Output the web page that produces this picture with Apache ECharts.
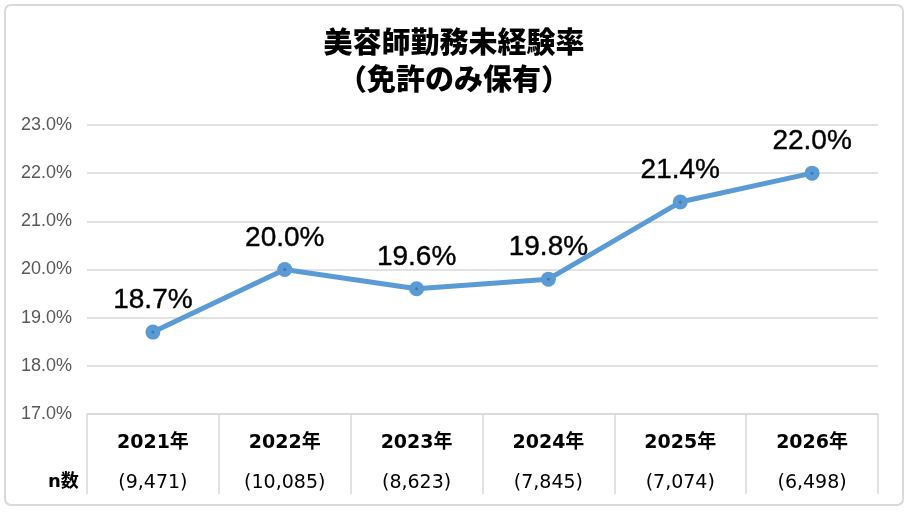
<!DOCTYPE html>
<html>
<head>
<meta charset="utf-8">
<script src="https://cdn.jsdelivr.net/npm/echarts@6/dist/echarts.min.js"></script>
<style>
  html, body { margin: 0; padding: 0; background: #fff; }
  #chart { width: 908px; height: 512px; }
</style>
</head>
<body>
<div id="chart"></div>
<script>
// データ
const years = ["2021年", "2022年", "2023年", "2024年", "2025年", "2026年"];
const counts = ["(9,471)", "(10,085)", "(8,623)", "(7,845)", "(7,074)", "(6,498)"];
const rates = [18.7, 20.0, 19.6, 19.8, 21.4, 22.0];

const chart = echarts.init(document.getElementById("chart"));

chart.setOption({
  backgroundColor: "#fff",
  animation: false,
  title: {
    text: "美容師勤務未経験率\n（免許のみ保有）",
    left: "center",
    top: 18,
    textStyle: {
      fontFamily: "Noto Sans CJK JP",
      fontSize: 29,
      fontWeight: 900,
      color: "#000",
      lineHeight: 37
    }
  },
  graphic: [
    {
      type: "rect",
      shape: { x: 5, y: 5, width: 898, height: 500, r: 6 },
      style: { fill: "none", stroke: "#d9d9d9", lineWidth: 2 },
      silent: true
    },
    {
      type: "text",
      left: 48,
      top: 473,
      style: {
        text: "n数",
        font: "bold 18px 'DejaVu Sans', 'Noto Sans CJK JP'",
        fill: "#000"
      }
    }
  ],
  grid: { left: 87, right: 30, top: 125, bottom: 98 },
  xAxis: {
    type: "category",
    data: years,
    boundaryGap: true,
    axisLine: { lineStyle: { color: "#d9d9d9", width: 1.5 } },
    axisTick: {
      show: true,
      interval: 0,
      length: 80,
      lineStyle: { color: "#d9d9d9", width: 1.5 }
    },
    axisLabel: {
      interval: 0,
      margin: 9,
      formatter: (v, i) => "{a|" + v + "}\n{b|" + counts[i] + "}",
      rich: {
        a: {
          fontFamily: "DejaVu Sans, Noto Sans CJK JP",
          fontWeight: "bold",
          fontSize: 19,
          color: "#000",
          lineHeight: 40
        },
        b: {
          fontFamily: "DejaVu Sans, Noto Sans CJK JP",
          fontSize: 19,
          color: "#000",
          lineHeight: 40
        }
      }
    }
  },
  yAxis: {
    type: "value",
    min: 17,
    max: 23,
    interval: 1,
    axisLine: { show: false },
    axisTick: { show: false },
    axisLabel: {
      margin: 15,
      formatter: v => v.toFixed(1) + "%",
      fontFamily: "Liberation Sans",
      fontSize: 18,
      color: "#595959"
    },
    splitLine: { lineStyle: { color: "#d9d9d9", width: 1.5 } }
  },
  series: [
    {
      type: "line",
      data: rates,
      symbol: "circle",
      symbolSize: 15,
      lineStyle: { color: "#5b9bd5", width: 5 },
      itemStyle: { color: "#5b9bd5" },
      label: {
        show: true,
        position: "top",
        distance: 10,
        formatter: p => p.value.toFixed(1) + "%",
        fontFamily: "Liberation Sans",
        fontSize: 28,
        color: "#000",
        textBorderColor: "#000",
        textBorderWidth: 0.4
      },
      z: 2
    },
    {
      type: "scatter",
      data: rates,
      symbol: "circle",
      symbolSize: 3,
      itemStyle: { color: "#3b6ea8" },
      silent: true,
      z: 3
    }
  ]
});
</script>
</body>
</html>
